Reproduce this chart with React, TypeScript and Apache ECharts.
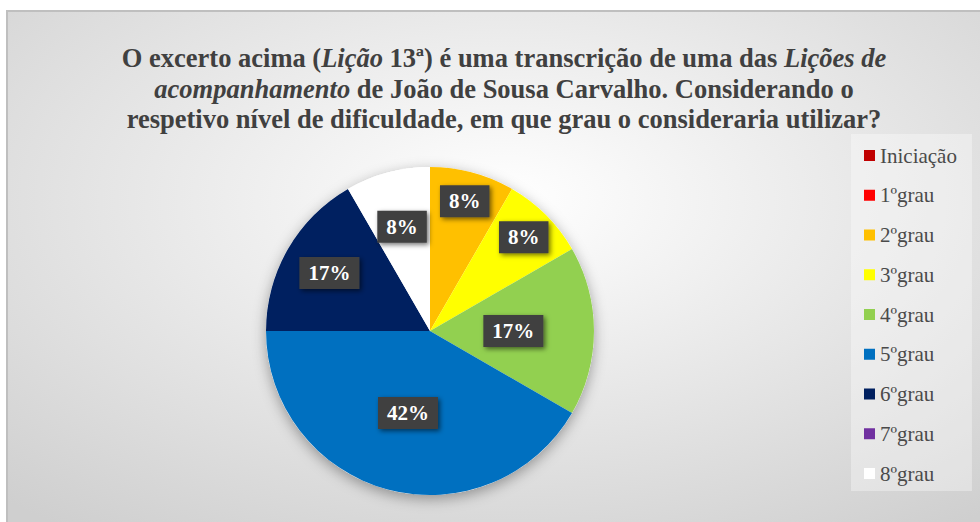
import React, { useEffect, useRef } from "react";
import * as echarts from "echarts";

const categories = ["Iniciação", "1ºgrau", "2ºgrau", "3ºgrau", "4ºgrau", "5ºgrau", "6ºgrau", "7ºgrau", "8ºgrau"];
const responses = [0, 0, 1, 1, 2, 5, 2, 0, 1];
const sliceColors = ["#C00000", "#FF0000", "#FFC000", "#FFFF00", "#92D050", "#0070C0", "#002060", "#7030A0", "#FFFFFF"];
// label distance from centre as a fraction of the radius (Excel "best fit")
const labelRadiusFraction = [0.5, 0.5, 0.8, 0.79, 0.49, 0.5, 0.69, 0.5, 0.64];
const titleText =
  "O excerto acima ({i|Lição} 13ª) é uma transcrição de uma das {i|Lições de}\n" +
  "{i|acompanhamento} de João de Sousa Carvalho. Considerando o\n" +
  "respetivo nível de dificuldade, em que grau o consideraria utilizar?";

const SERIF = "Liberation Serif";
const PIE_R = 164;

export default function App() {
  const ref = useRef<HTMLDivElement>(null);
  useEffect(() => {
    if (!ref.current) return;
    const chart = echarts.init(ref.current, undefined, { renderer: "svg" });
    const total = responses.reduce((a, b) => a + b, 0);
    const cum: number[] = [];
    let acc = 0;
    responses.forEach((v) => {
      cum.push(acc);
      acc += v;
    });
    chart.setOption({
      animation: false,
      textStyle: { fontFamily: SERIF },
      graphic: [
        {
          type: "rect",
          z: -10,
          silent: true,
          shape: { x: 7, y: 11, width: 1000, height: 540 },
          style: {
            fill: {
              type: "radial",
              x: 0.5,
              y: 0.35,
              r: 0.75,
              colorStops: [
                { offset: 0, color: "#ffffff" },
                { offset: 1, color: "#cfcfcf" },
              ],
            },
            stroke: "#bfbfbf",
            lineWidth: 2,
          },
        },
      ],
      title: {
        text: titleText,
        left: 499,
        top: 38,
        textAlign: "center",
        textStyle: {
          fontFamily: SERIF,
          fontWeight: "bold",
          fontSize: 26.5,
          lineHeight: 30.5,
          color: "#404040",
          rich: {
            i: {
              fontFamily: SERIF,
              fontWeight: "bold",
              fontStyle: "italic",
              fontSize: 26.5,
              lineHeight: 30.5,
              color: "#404040",
            },
          },
        },
      },
      legend: {
        orient: "vertical",
        left: 851,
        top: 134,
        data: categories,
        icon: "rect",
        itemWidth: 11,
        itemHeight: 11,
        itemGap: 18.75,
        selectedMode: false,
        backgroundColor: "rgba(255,255,255,0.35)",
        padding: [11, 15, 7, 13],
        textStyle: {
          fontFamily: SERIF,
          fontSize: 21,
          lineHeight: 21,
          color: "#4a4a4a",
        },
      },
      series: [
        {
          type: "pie",
          silent: true,
          z: 1,
          center: [430, 331],
          radius: PIE_R,
          label: { show: false },
          labelLine: { show: false },
          itemStyle: {
            color: "#ffffff",
            shadowBlur: 14,
            shadowColor: "rgba(0,0,0,0.35)",
            shadowOffsetY: 4,
          },
          data: [{ name: "_shadow", value: total }],
        },
        {
          type: "pie",
          z: 2,
          center: [430, 331],
          radius: PIE_R,
          startAngle: 90,
          clockwise: true,
          emphasis: { disabled: true },
          itemStyle: { borderWidth: 0 },
          labelLine: { show: false },
          label: {
            position: "inside",
            formatter: (p: any) => `${Math.round(p.percent)}%`,
            fontFamily: SERIF,
            fontWeight: "bold",
            fontSize: 21,
            color: "#ffffff",
            backgroundColor: "#404040",
            padding: [6, 9, 5, 9],
            shadowColor: "rgba(0,0,0,0.55)",
            shadowBlur: 5,
            shadowOffsetX: 2,
            shadowOffsetY: 2,
          },
          labelLayout: (params: any) => {
            const i = params.dataIndex;
            const theta = (2 * Math.PI * (cum[i] + responses[i] / 2)) / total;
            const k = (labelRadiusFraction[i] - 0.5) * PIE_R;
            return { dx: k * Math.sin(theta), dy: -k * Math.cos(theta) };
          },
          data: categories.map((name, i) => ({
            name,
            value: responses[i],
            itemStyle: { color: sliceColors[i] },
            label: { show: responses[i] > 0 },
          })),
        },
      ],
    });
    return () => chart.dispose();
  }, []);
  return (
    <div
      ref={ref}
      style={{ position: "fixed", left: 0, top: 0, width: 980, height: 522, background: "#ffffff" }}
    />
  );
}
